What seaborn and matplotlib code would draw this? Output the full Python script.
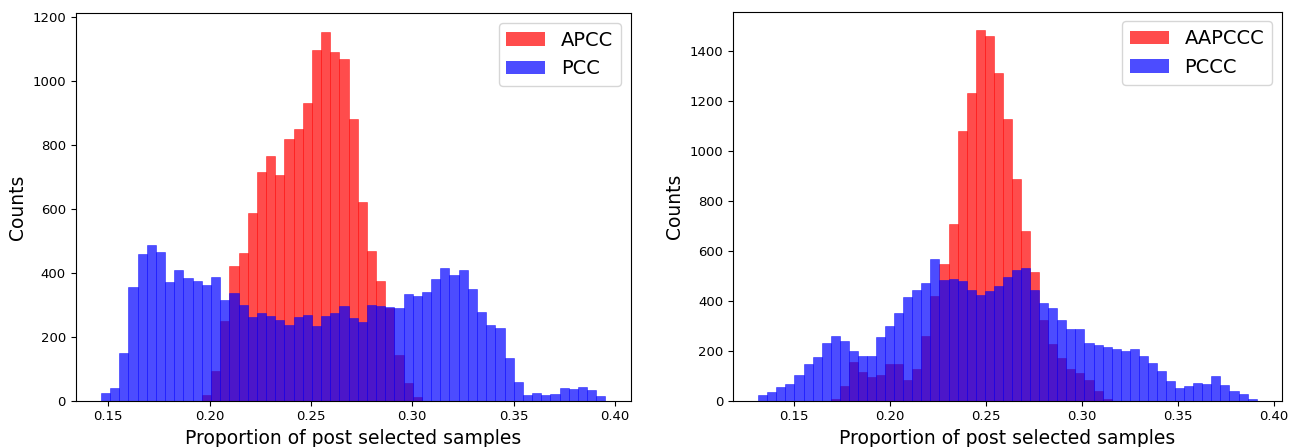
import numpy as np
import pandas as pd
import matplotlib
matplotlib.use("Agg")
import matplotlib.pyplot as plt
import seaborn as sns

# ---- data (counts per bin) ----
left_range = (0.1464, 0.3953)
left_nbins = 55
left_apcc = [0] * 11 + [18, 93, 249, 421, 461, 586, 715, 765, 708, 818, 849, 933,
                        1099, 1155, 1090, 1071, 883, 621, 469, 374, 290, 143, 55, 11] + [0] * 20
left_pcc = [23, 40, 149, 355, 458, 486, 465, 371, 408, 383, 374, 361, 386, 315, 336,
            299, 261, 274, 265, 252, 236, 261, 268, 233, 265, 274, 296, 258, 246, 299,
            296, 293, 290, 333, 327, 340, 380, 415, 393, 408, 349, 277, 236, 227, 133,
            58, 18, 24, 18, 21, 40, 36, 43, 33, 15]

right_range = (0.1314, 0.3912)
right_nbins = 55
right_aapccc = [0] * 8 + [7, 59, 155, 115, 95, 103, 147, 147, 83, 127, 259, 419, 549,
                          707, 1079, 1231, 1483, 1459, 1311, 1127, 887, 679, 515, 323,
                          227, 171, 127, 111, 83, 39, 7] + [0] * 16
right_pccc = [23, 35, 55, 67, 103, 147, 175, 231, 259, 239, 199, 179, 179, 255, 299,
              351, 415, 443, 471, 567, 483, 487, 479, 443, 423, 439, 459, 495, 523, 531,
              443, 391, 371, 323, 287, 287, 231, 223, 215, 207, 199, 207, 179, 151, 119,
              79, 51, 59, 71, 67, 99, 63, 39, 27, 7]

labels_left = ["APCC", "PCC"]
labels_right = ["AAPCCC", "PCCC"]
xlabel = "Proportion of post selected samples"
ylabel = "Counts"

fig = plt.figure(figsize=(12.96, 4.47), dpi=100)
ax1 = fig.add_axes([0.0584, 0.1036, 0.4282, 0.8667])
ax2 = fig.add_axes([0.5658, 0.1036, 0.4231, 0.8702])


def draw(ax, rng, nbins, a, b, labs):
    edges = np.linspace(rng[0], rng[1], nbins + 1)
    centers = (edges[:-1] + edges[1:]) / 2
    df_a = pd.DataFrame({"x": centers, "w": a})
    df_b = pd.DataFrame({"x": centers, "w": b})
    sns.histplot(data=df_a, x="x", weights="w", bins=edges.tolist(), color="red", alpha=0.7,
                 edgecolor=(1, 0, 0, 0.6), linewidth=0.5, label=labs[0], ax=ax)
    sns.histplot(data=df_b, x="x", weights="w", bins=edges.tolist(), color="blue", alpha=0.7,
                 edgecolor=(0, 0, 1, 0.6), linewidth=0.5, label=labs[1], ax=ax)
    ax.set_xlabel(xlabel, fontsize=13.5)
    ax.set_ylabel(ylabel, fontsize=13.5)
    ax.tick_params(labelsize=9.5)
    handles, lbls = ax.get_legend_handles_labels()
    leg = ax.legend(fontsize=14, loc="upper right")
    for h in leg.legend_handles:
        h.set_edgecolor("none")


draw(ax1, left_range, left_nbins, left_apcc, left_pcc, labels_left)
draw(ax2, right_range, right_nbins, right_aapccc, right_pccc, labels_right)

fig.savefig("out.png", dpi=100)
